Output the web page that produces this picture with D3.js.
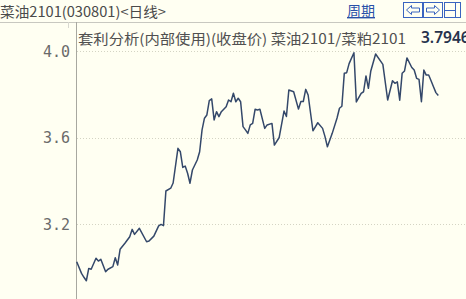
<!DOCTYPE html>
<html>
<head>
<meta charset="utf-8">
<script src="https://cdn.jsdelivr.net/npm/d3@7"></script>
<style>
  html, body { margin: 0; padding: 0; background: #fffff2; }
  svg { display: block; }
</style>
</head>
<body>
<svg width="466" height="299"></svg>
<script>
// Canvas
const width = 466, height = 299;
const svg = d3.select("svg");

// Data: trading-day index and close ratio
const day = [0, 2, 3, 4, 5, 6, 8, 9, 10, 12, 13, 15, 16, 17, 18, 20, 22, 23, 24, 26,
  29, 30, 32, 34, 35, 36, 37, 39, 40, 42, 43, 44, 45, 46, 47, 48, 50, 51, 52, 53,
  54, 55, 56, 57, 58, 59, 60, 62, 63, 64, 65, 66, 67, 68, 69, 70, 71, 72, 73, 74,
  75, 76, 78, 79, 81, 82, 84, 86, 87, 88, 90, 92, 93, 94, 95, 96, 98, 100, 102, 103,
  104, 106, 108, 109, 110, 111, 112, 113, 115, 116, 118, 119, 120, 121, 122, 124, 127, 129, 131, 132,
  133, 134, 135, 136, 137, 139, 140, 141, 142, 143, 144, 145, 146, 147, 148, 149, 150];
const ratio = [3.028, 2.974, 2.956, 2.940, 2.997, 2.993, 3.044, 3.031, 3.039, 2.982, 2.993, 3.005, 3.046, 3.013, 3.085, 3.113, 3.143, 3.177, 3.154, 3.182,
  3.120, 3.123, 3.146, 3.193, 3.200, 3.194, 3.354, 3.367, 3.391, 3.551, 3.535, 3.463, 3.469, 3.436, 3.390, 3.451, 3.497, 3.535, 3.636, 3.690,
  3.705, 3.771, 3.779, 3.682, 3.720, 3.697, 3.720, 3.743, 3.774, 3.766, 3.805, 3.766, 3.782, 3.766, 3.651, 3.636, 3.620, 3.659, 3.666, 3.731,
  3.728, 3.731, 3.643, 3.659, 3.666, 3.566, 3.601, 3.723, 3.698, 3.820, 3.812, 3.732, 3.767, 3.767, 3.823, 3.797, 3.632, 3.669, 3.643, 3.605,
  3.558, 3.620, 3.691, 3.736, 3.745, 3.897, 3.900, 3.942, 3.992, 3.765, 3.805, 3.812, 3.885, 3.828, 3.908, 3.986, 3.938, 3.774, 3.863, 3.851,
  3.858, 3.773, 3.897, 3.908, 3.968, 3.924, 3.912, 3.874, 3.869, 3.766, 3.912, 3.889, 3.889, 3.863, 3.835, 3.808, 3.7946];
const yTicks = [3.2, 3.6, 4.0];

const headerTitle = "菜油2101(030801)<日线>";
const seriesTitle = "套利分析(内部使用)(收盘价) 菜油2101/菜粕2101";
const lastValue = "3.7946";

// Scales
const xScale = d3.scaleLinear()
  .domain([0, 150])
  .range([76.7, 438.3]);

const yScale = d3.scaleLinear()
  .domain([3.2, 4.0])
  .range([224.4, 51]);

const plotLeft = 76, headerBottom = 22;

// Header strip
svg.append("line")
  .attr("x1", 0).attr("x2", width)
  .attr("y1", headerBottom + 0.5).attr("y2", headerBottom + 0.5)
  .attr("stroke", "#c8c8c0");

svg.append("line")
  .attr("x1", 68.5).attr("x2", 68.5)
  .attr("y1", headerBottom).attr("y2", headerBottom + 6)
  .attr("stroke", "#d8d8d0");

svg.append("text")
  .attr("x", 0).attr("y", 17)
  .attr("font-family", "Noto Sans CJK SC")
  .attr("font-size", 14)
  .attr("fill", "#4a4a4a")
  .attr("textLength", 166)
  .attr("lengthAdjust", "spacingAndGlyphs")
  .text(headerTitle);

svg.append("text")
  .attr("x", 347).attr("y", 16)
  .attr("font-family", "Noto Sans CJK SC")
  .attr("font-size", 14)
  .attr("fill", "#2a50a8")
  .attr("text-decoration", "underline")
  .text("周期");

// Buttons in the header
const btn = svg.append("g").attr("fill", "none").attr("stroke", "#3a64c0");
btn.append("rect").attr("x", 403.5).attr("y", 2.5).attr("width", 19).attr("height", 15);
btn.append("rect").attr("x", 423.5).attr("y", 2.5).attr("width", 19).attr("height", 15);
btn.append("rect").attr("x", 444.5).attr("y", 2.5).attr("width", 16).attr("height", 15);
// left arrow
btn.append("path").attr("d", "M406.5,10 L411.5,5.5 L411.5,8 L419.5,8 L419.5,12 L411.5,12 L411.5,14.5 Z");
// right arrow
btn.append("path").attr("d", "M439.5,10 L434.5,5.5 L434.5,8 L426.5,8 L426.5,12 L434.5,12 L434.5,14.5 Z");
// panel icon
btn.append("line").attr("x1", 444.5).attr("x2", 455.5).attr("y1", 10.5).attr("y2", 10.5);
btn.append("line").attr("x1", 455.5).attr("x2", 455.5).attr("y1", 2.5).attr("y2", 17.5);

// Vertical axis line
svg.append("line")
  .attr("x1", plotLeft + 0.5).attr("x2", plotLeft + 0.5)
  .attr("y1", headerBottom).attr("y2", height)
  .attr("stroke", "#a8a8a0");

// Grid lines
svg.append("g")
  .selectAll("line")
  .data(yTicks)
  .join("line")
  .attr("x1", plotLeft + 1).attr("x2", width)
  .attr("y1", d => Math.round(yScale(d)) + 0.5)
  .attr("y2", d => Math.round(yScale(d)) + 0.5)
  .attr("stroke", "#d4d4c4")
  .attr("stroke-dasharray", "1,2");

// Y tick labels
svg.append("g")
  .selectAll("text")
  .data(yTicks)
  .join("text")
  .attr("x", 70)
  .attr("y", d => yScale(d) + 5.5)
  .attr("text-anchor", "end")
  .attr("font-family", "DejaVu Sans Mono")
  .attr("font-size", 15)
  .attr("fill", "#6a6a6a")
  .text(d => d3.format(".1f")(d));

// Series title and last value
svg.append("text")
  .attr("x", 78).attr("y", 44)
  .attr("font-family", "Noto Sans CJK SC")
  .attr("font-size", 14)
  .attr("fill", "#505050")
  .attr("textLength", 328)
  .attr("lengthAdjust", "spacingAndGlyphs")
  .text(seriesTitle);

svg.append("text")
  .attr("x", 421).attr("y", 43)
  .attr("font-family", "Noto Sans")
  .attr("font-size", 15.5)
  .attr("font-weight", 600)
  .attr("fill", "#27334d")
  .text(lastValue);

// Ratio line
const line = d3.line()
  .x((d, i) => xScale(day[i]))
  .y(d => yScale(d));

svg.append("path")
  .datum(ratio)
  .attr("fill", "none")
  .attr("stroke", "#34486a")
  .attr("stroke-width", 1.5)
  .attr("stroke-linejoin", "round")
  .attr("d", line);
</script>
</body>
</html>
